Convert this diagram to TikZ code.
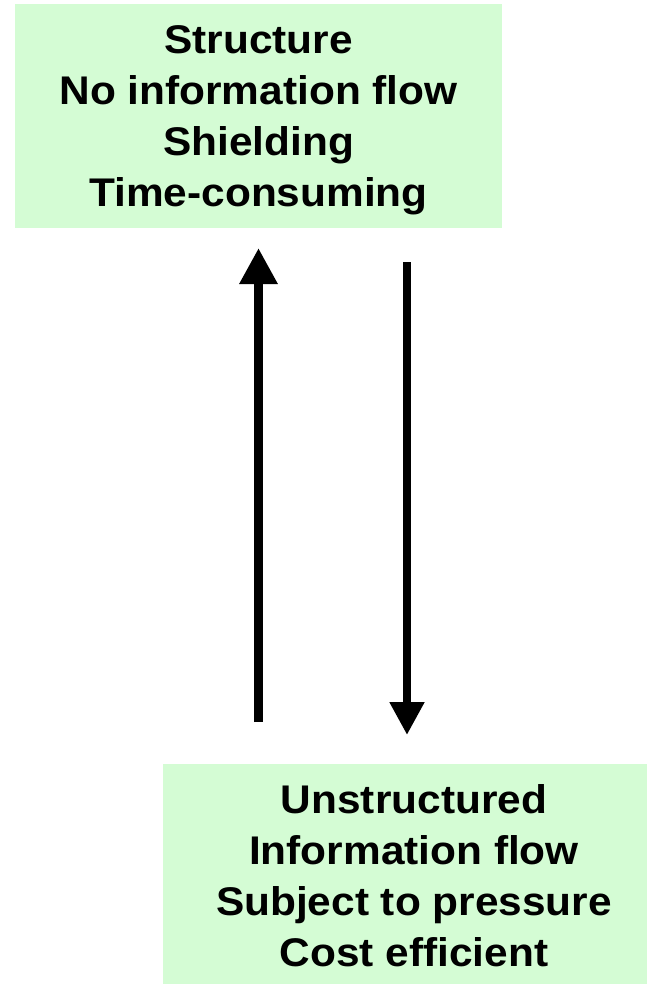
\documentclass[tikz,border=0pt]{standalone}
\usepackage{fontspec}
\setmainfont{Liberation Sans}[FakeStretch=1.06]
\usetikzlibrary{arrows.meta}
\definecolor{boxgreen}{RGB}{212,252,212}
\tikzset{
  infobox/.style={fill=boxgreen, draw=none, inner sep=0pt, align=center,
    font=\fontsize{40pt}{51pt}\selectfont\bfseries},
  bigarrow/.style={line width=9pt, -{Triangle[width=36pt,length=36pt]}},
}
\begin{document}
\begin{tikzpicture}[x=1pt,y=-1pt]
  \clip (0,0) rectangle (647,984);
  \fill[white] (0,0) rectangle (647,984);

  % the two property boxes
  \node[infobox, minimum width=487pt, minimum height=224pt] (top) at (258.5,116)
    {\rule{0pt}{36pt}Structure\\No information flow\\Shielding\\Time-consuming};
  \node[infobox, minimum width=502pt, minimum height=224pt] (bottom) at (414,876)
    {Unstructured\\Information flow\\Subject to pressure\\Cost efficient};

  % free ends of the two transitions
  \coordinate (upfrom) at (258.5,722);
  \coordinate (upto)   at (258.5,248);
  \coordinate (downfrom) at (407,262);
  \coordinate (downto)   at (407,735);

  \draw[bigarrow] (upfrom) -- (upto);
  \draw[line width=8pt, -{Triangle[width=33pt,length=33pt]}] (downfrom) -- (downto);
\end{tikzpicture}
\end{document}
